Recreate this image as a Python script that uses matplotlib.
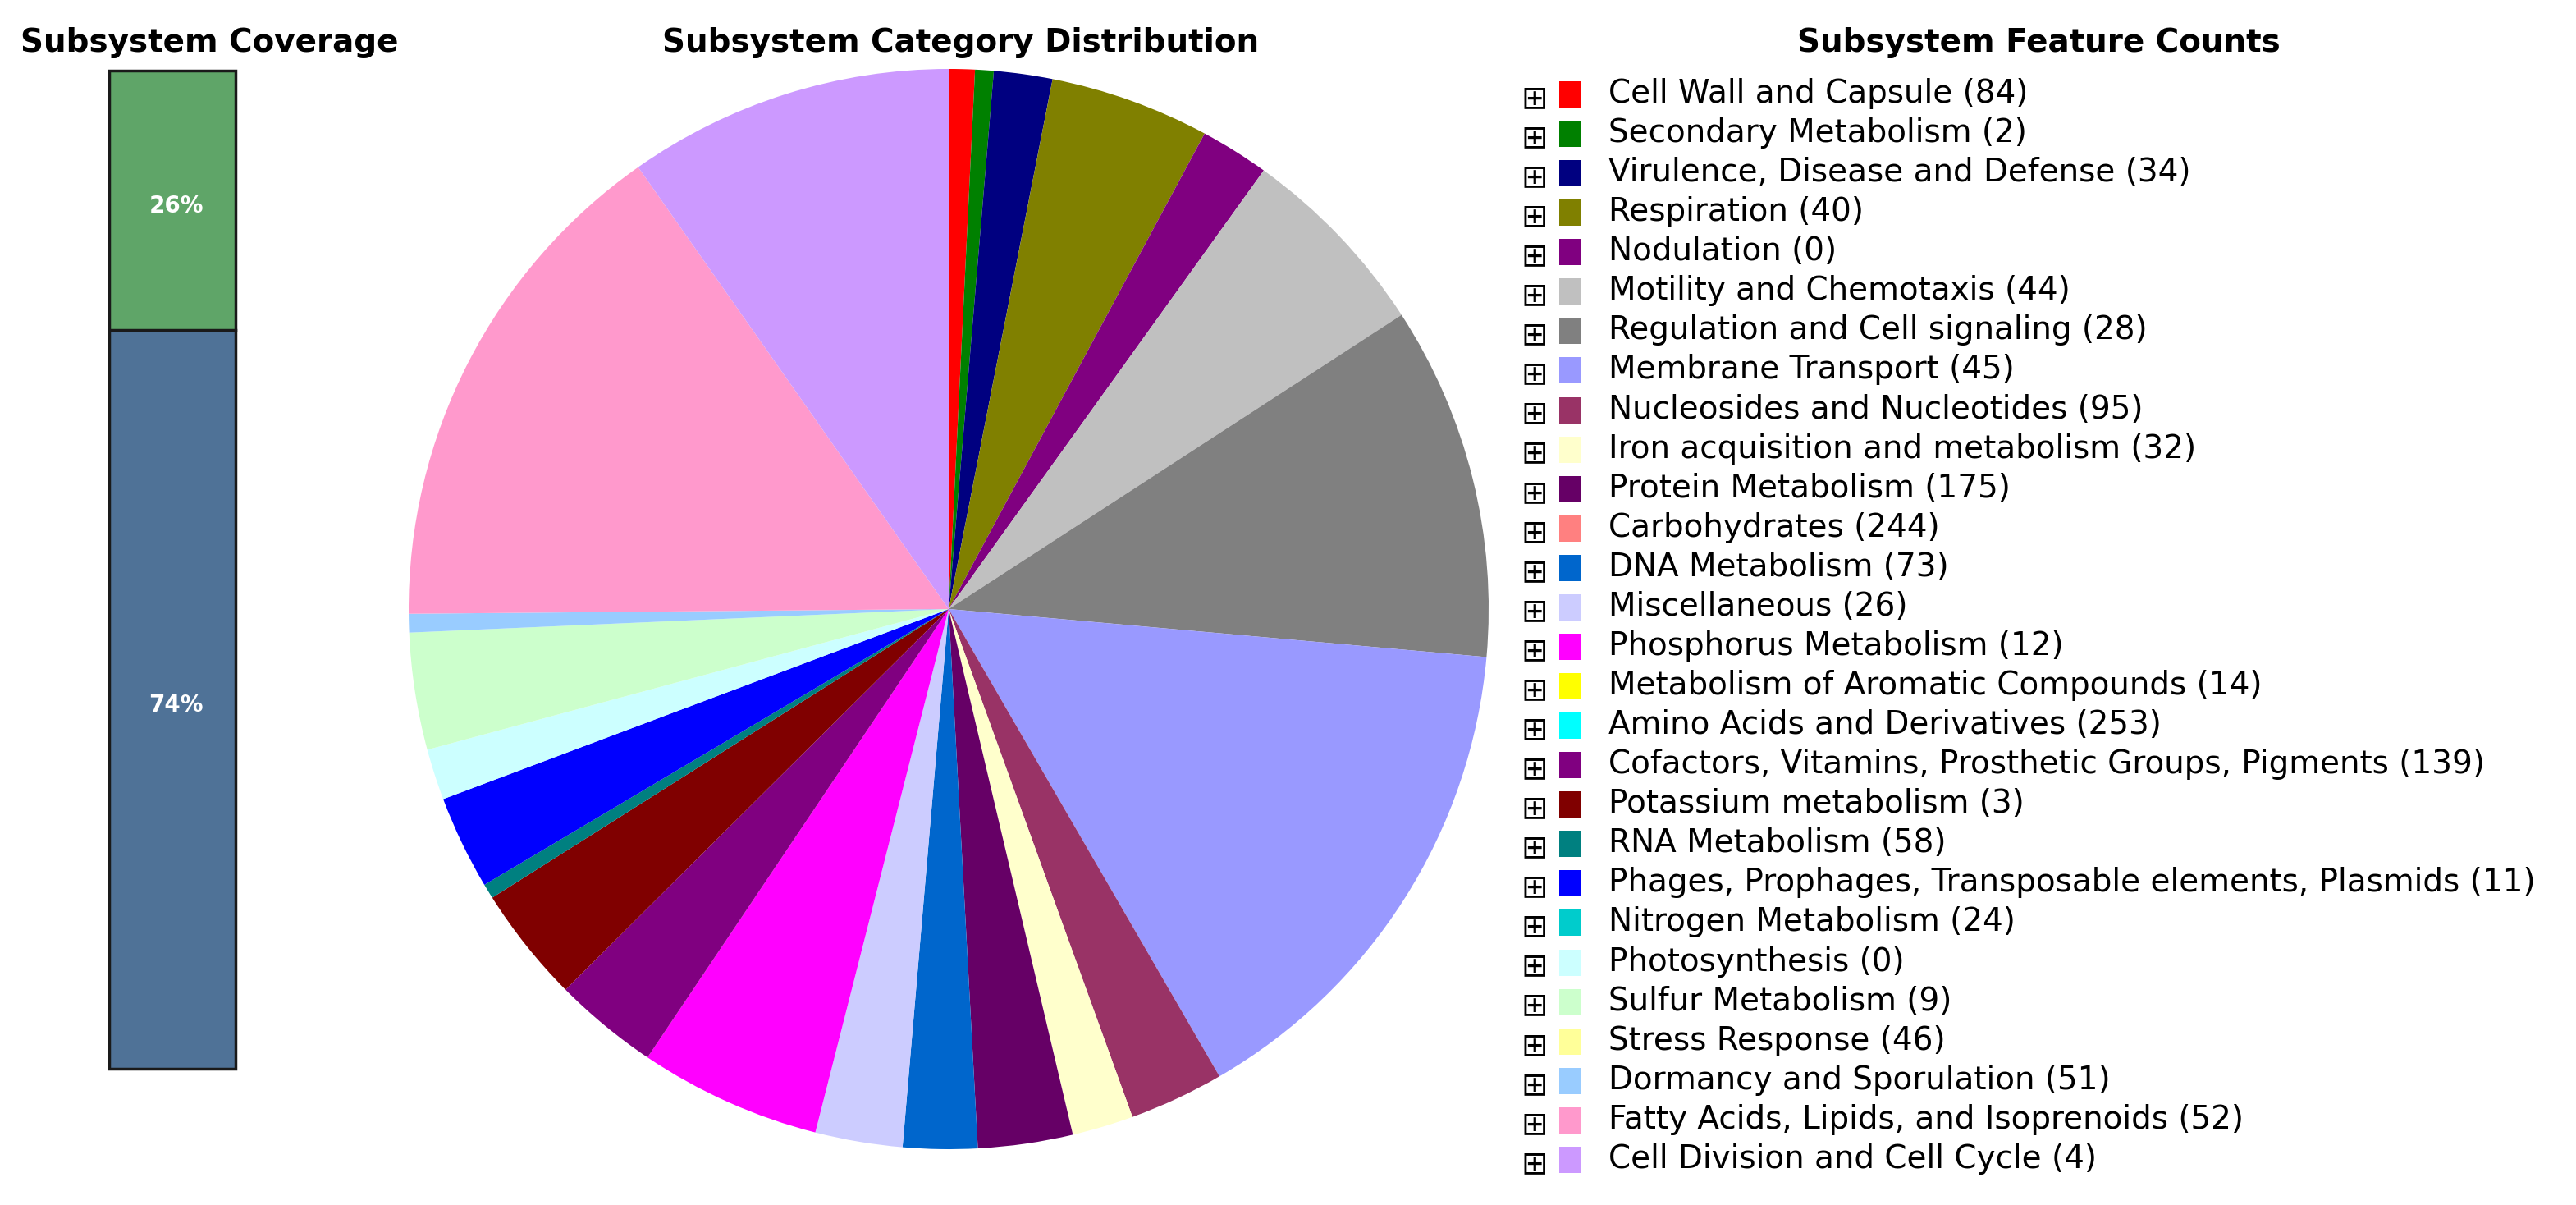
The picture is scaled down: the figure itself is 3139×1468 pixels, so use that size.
import matplotlib
matplotlib.use('Agg')
import matplotlib.pyplot as plt
from matplotlib.patches import Rectangle

# Subsystem coverage (percent)
coverage_labels = ['74%', '26%']
coverage_values = [74, 26]
coverage_colors = ['#4f7297', '#5fa568']

# Pie slices, clockwise from the top (estimated sizes, degrees)
pie_values = [2.8, 2.0, 6.3, 17.2, 7.4, 21.3, 38.1, 54.8, 10.2, 6.6, 10.2, 8.0,
              9.4, 19.6, 11.3, 12.5, 1.6, 10.1, 5.5, 12.6, 2.0, 55.4, 35.1]
pie_colors = ['#ff0000', '#008000', '#000080', '#808000', '#800080', '#c0c0c0',
              '#808080', '#9999ff', '#993366', '#ffffcc', '#660066', '#0066cc',
              '#ccccff', '#ff00ff', '#800080', '#800000', '#008080', '#0000ff',
              '#ccffff', '#ccffcc', '#99ccff', '#ff99cc', '#cc99ff']

# Feature counts legend
categories = ['Cell Wall and Capsule', 'Secondary Metabolism', 'Virulence, Disease and Defense',
              'Respiration', 'Nodulation', 'Motility and Chemotaxis',
              'Regulation and Cell signaling', 'Membrane Transport', 'Nucleosides and Nucleotides',
              'Iron acquisition and metabolism', 'Protein Metabolism', 'Carbohydrates',
              'DNA Metabolism', 'Miscellaneous', 'Phosphorus Metabolism',
              'Metabolism of Aromatic Compounds', 'Amino Acids and Derivatives',
              'Cofactors, Vitamins, Prosthetic Groups, Pigments', 'Potassium metabolism',
              'RNA Metabolism', 'Phages, Prophages, Transposable elements, Plasmids',
              'Nitrogen Metabolism', 'Photosynthesis', 'Sulfur Metabolism', 'Stress Response',
              'Dormancy and Sporulation', 'Fatty Acids, Lipids, and Isoprenoids',
              'Cell Division and Cell Cycle']
counts = [84, 2, 34, 40, 0, 44, 28, 45, 95, 32, 175, 244, 73, 26, 12, 14, 253, 139,
          3, 58, 11, 24, 0, 9, 46, 51, 52, 4]
cat_colors = ['#ff0000', '#008000', '#000080', '#808000', '#800080', '#c0c0c0',
              '#808080', '#9999ff', '#993366', '#ffffcc', '#660066', '#ff8080',
              '#0066cc', '#ccccff', '#ff00ff', '#ffff00', '#00ffff', '#800080',
              '#800000', '#008080', '#0000ff', '#00cccc', '#ccffff', '#ccffcc',
              '#ffff99', '#99ccff', '#ff99cc', '#cc99ff']

W, H = 3139, 1468
fig = plt.figure(figsize=(W / 100, H / 100), dpi=100)

# coverage bar
axb = fig.add_axes([133 / W, (H - 1302) / H, 154 / W, 1216 / H])
bottom = 0
for val, col, lab in zip(coverage_values, coverage_colors, coverage_labels):
    axb.bar(0, val, width=1, bottom=bottom, color=col, edgecolor='#1a1a1a',
            linewidth=2.5, clip_on=False)
    axb.text(0.03, bottom + val / 2 - 0.6, lab, ha='center', va='center', color='white',
             fontsize=20, fontweight='bold')
    bottom += val
axb.set_xlim(-0.5, 0.5)
axb.set_ylim(0, 100)
axb.axis('off')

# pie
axp = fig.add_axes([(1156 - 658) / W, (H - 742 - 658) / H, 1316 / W, 1316 / H])
axp.pie(pie_values, colors=pie_colors, startangle=90, counterclock=False,
        wedgeprops=dict(linewidth=0))
axp.set_xlim(-1, 1)
axp.set_ylim(-1, 1)
axp.axis('off')

# overlay for titles and legend, pixel coords
ov = fig.add_axes([0, 0, 1, 1])
ov.set_xlim(0, W)
ov.set_ylim(H, 0)
ov.axis('off')

ov.text(255, 52, 'Subsystem Coverage', ha='center', va='center', fontsize=28, fontweight='bold')
ov.text(1171, 52, 'Subsystem Category Distribution', ha='center', va='center',
        fontsize=28, fontweight='bold')
ov.text(2484, 52, 'Subsystem Feature Counts', ha='center', va='center',
        fontsize=28, fontweight='bold')

y0 = 114
dy = 48.07
for i, (name, n, col) in enumerate(zip(categories, counts, cat_colors)):
    y = y0 + i * dy
    ov.text(1870, y + 6, '\u229e', ha='center', va='center', fontsize=28)
    ov.add_patch(Rectangle((1900, y - 15), 27, 32, facecolor=col, edgecolor='none'))
    ov.text(1960, y, '%s (%d)' % (name, n), ha='left', va='center', fontsize=28)

fig.savefig('out.png', dpi=100, facecolor='white')
